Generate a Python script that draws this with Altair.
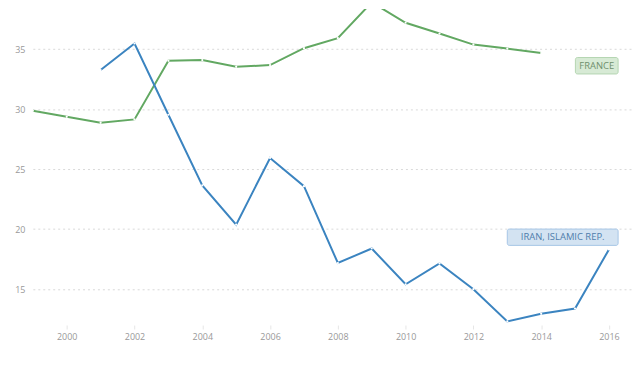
import altair as alt
import pandas as pd

years_fr = list(range(1999, 2015))
france = [29.86, 29.36, 28.86, 29.14, 34.03, 34.09, 33.53, 33.67, 35.08, 35.91,
          38.9, 37.2, 36.3, 35.38, 35.05, 34.67]
years_ir = list(range(2001, 2017))
iran = [33.26, 35.47, 29.53, 23.64, 20.37, 25.93, 23.58, 17.17, 18.38, 15.4,
        17.14, 14.99, 12.3, 12.94, 13.38, 18.3]

x_ticks = [2000, 2002, 2004, 2006, 2008, 2010, 2012, 2014, 2016]
y_ticks = [15, 20, 25, 30, 35]

label_names = ["FRANCE", "IRAN, ISLAMIC REP."]

GREEN = "#62a862"
BLUE = "#3b84c0"

df = pd.concat([
    pd.DataFrame({"year": years_fr, "value": france, "country": "France"}),
    pd.DataFrame({"year": years_ir, "value": iran, "country": "Iran"}),
])

xs = alt.Scale(domain=[1999, 2016.68], nice=False, zero=False)
ys = alt.Scale(domain=[12, 38.34], nice=False, zero=False)
color = alt.Color("country:N", scale=alt.Scale(domain=["France", "Iran"], range=[GREEN, BLUE]), legend=None)

base = alt.Chart(df).encode(
    x=alt.X("year:Q", scale=xs, title=None,
            axis=alt.Axis(values=x_ticks, format="d", grid=False, domain=False,
                          tickColor="#e6e6e6", tickSize=4, labelColor="#999999",
                          labelFontSize=9, labelFont="Open Sans", labelPadding=4)),
    y=alt.Y("value:Q", scale=ys, title=None,
            axis=alt.Axis(values=y_ticks, grid=True, gridColor="#d9d9d9", gridDash=[2, 3],
                          domain=False, ticks=False, labelColor="#999999",
                          labelFontSize=9, labelFont="Open Sans", labelPadding=8)),
    color=color,
)

lines = base.mark_line(strokeWidth=2, clip=True)
points = base.mark_point(filled=True, size=5, fill="white", opacity=1, clip=True)

# annotation boxes (data units)
ann = pd.DataFrame({
    "label": label_names,
    "country": ["France", "Iran"],
    "x0": [2015.01, 2013.0],
    "x1": [2016.27, 2016.27],
    "y0": [34.30, 20.0],
    "y1": [32.93, 18.64],
    "fill": ["#d7ead5", "#d3e3f2"],
    "stroke": ["#b4d6b1", "#a6c6e6"],
    "tcol": ["#6f8f6d", "#4f7dab"],
})
ann["xm"] = (ann["x0"] + ann["x1"]) / 2
ann["ym"] = (ann["y0"] + ann["y1"]) / 2

boxes = alt.Chart(ann).mark_rect(cornerRadius=2, strokeWidth=1).encode(
    x=alt.X("x0:Q", scale=xs), x2="x1:Q",
    y=alt.Y("y0:Q", scale=ys), y2="y1:Q",
    fill=alt.Fill("fill:N", scale=None),
    stroke=alt.Stroke("stroke:N", scale=None),
)
texts = alt.Chart(ann).mark_text(font="Open Sans", fontSize=9.5, baseline="middle", align="center").encode(
    x=alt.X("xm:Q", scale=xs), y=alt.Y("ym:Q", scale=ys),
    text="label:N",
    color=alt.Color("tcol:N", scale=None),
)

chart = alt.layer(lines, points, boxes, texts).properties(
    width=603, height=318, background="white",
    padding={"left": 6, "top": 0, "right": 0, "bottom": 0},
).configure_view(stroke=None)

chart.save("out.html", embed_options={"renderer": "svg", "actions": False})
